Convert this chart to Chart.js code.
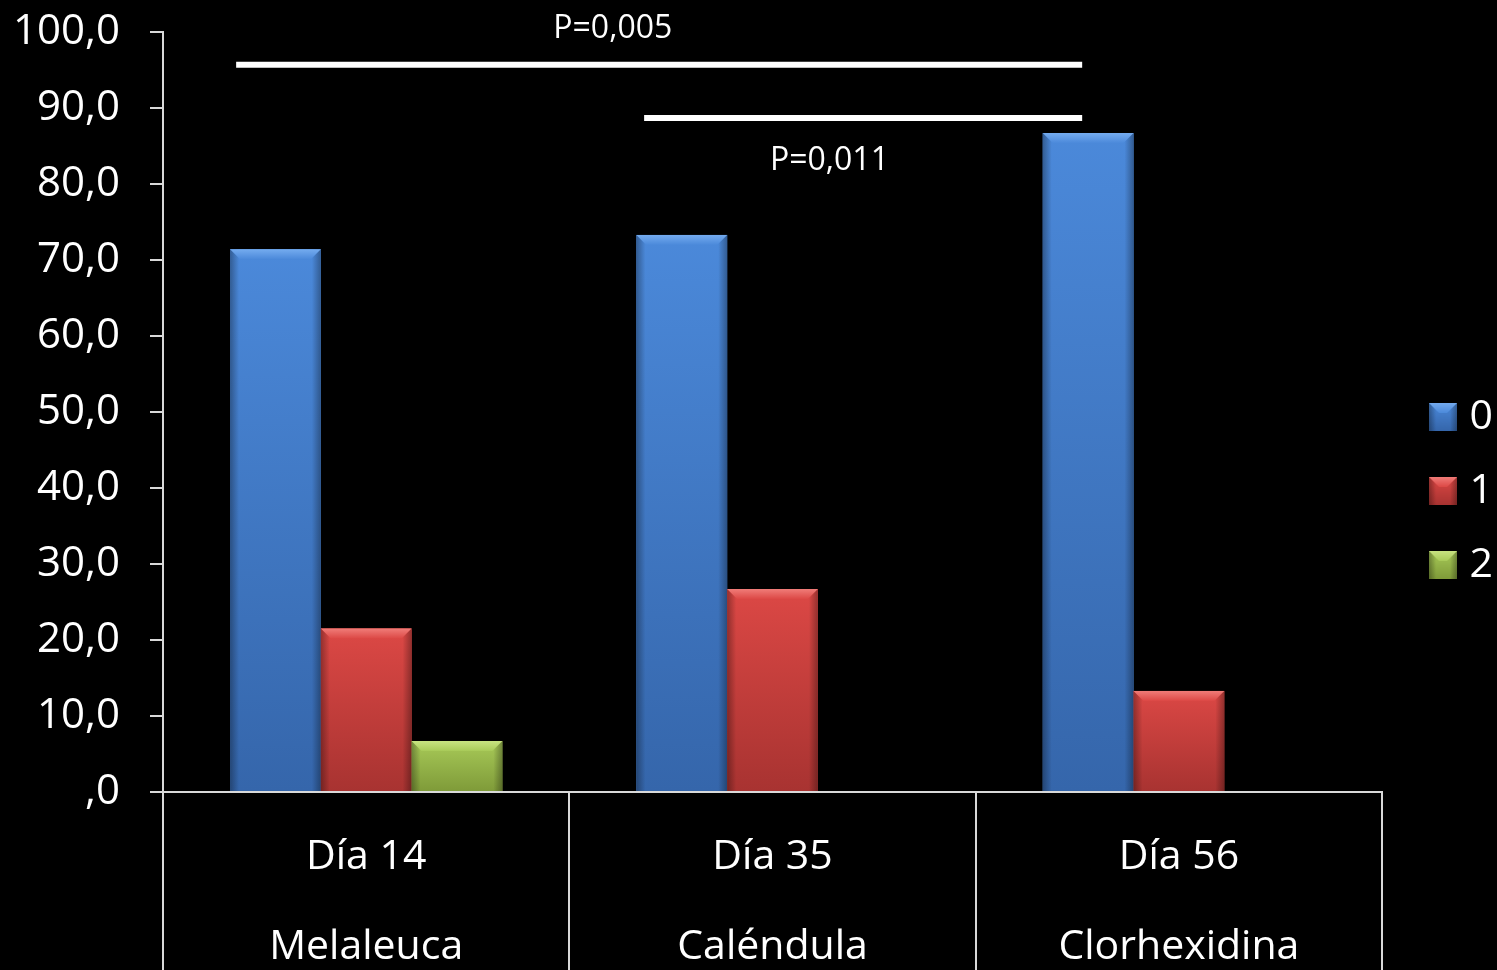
<!DOCTYPE html>
<html lang="es">
<head>
    <meta charset="UTF-8">
    <title>Puntuación por grupo</title>
    <script src="https://cdn.jsdelivr.net/npm/chart.js@4.4.1/dist/chart.umd.min.js"></script>
    <style>
        html, body { margin: 0; padding: 0; background: #000; overflow: hidden; }
        #wrap { width: 1497px; height: 970px; }
    </style>
</head>
<body>
    <div id="wrap"><canvas id="scoreChart"></canvas></div>

    <script>
        // Data
        const categories = [['Día 14', 'Melaleuca'], ['Día 35', 'Caléndula'], ['Día 56', 'Clorhexidina']];
        const seriesNames = ['0', '1', '2'];
        const score0 = [71.4, 73.3, 86.7];
        const score1 = [21.5, 26.7, 13.3];
        const score2 = [6.7, 0, 0];
        const pLabels = ['P=0,005', 'P=0,011'];

        const FONT = "'Open Sans', 'DejaVu Sans', sans-serif";
        const AXIS = '#d9d9d9';

        // bar shading per series: top, bottom, bevel
        const shades = [
            { top: '#4b89da', bottom: '#3566ab', bevel: '#74abef' },
            { top: '#dc4845', bottom: '#a83331', bevel: '#f07c78' },
            { top: '#a8ca58', bottom: '#7f9b39', bevel: '#c8e381' }
        ];

        function bevelRect(ctx, left, top, w, h, c) {
            const d = Math.min(10, h / 2, w / 2);
            let g = ctx.createLinearGradient(0, top, 0, top + h);
            g.addColorStop(0, c.top);
            g.addColorStop(1, c.bottom);
            ctx.fillStyle = g;
            ctx.fillRect(left, top, w, h);

            const s = Math.min(9, w / 4);
            g = ctx.createLinearGradient(left, 0, left + s, 0);
            g.addColorStop(0, 'rgba(0,0,0,0.32)');
            g.addColorStop(1, 'rgba(0,0,0,0)');
            ctx.fillStyle = g;
            ctx.fillRect(left, top, s, h);
            g = ctx.createLinearGradient(left + w - s, 0, left + w, 0);
            g.addColorStop(0, 'rgba(0,0,0,0)');
            g.addColorStop(1, 'rgba(0,0,0,0.32)');
            ctx.fillStyle = g;
            ctx.fillRect(left + w - s, top, s, h);

            g = ctx.createLinearGradient(0, top, 0, top + d);
            g.addColorStop(0, c.bevel);
            g.addColorStop(1, c.top);
            ctx.fillStyle = g;
            ctx.beginPath();
            ctx.moveTo(left, top);
            ctx.lineTo(left + w, top);
            ctx.lineTo(left + w - d, top + d);
            ctx.lineTo(left + d, top + d);
            ctx.closePath();
            ctx.fill();
        }

        function makeIcon(c) {
            const cv = document.createElement('canvas');
            cv.width = 28; cv.height = 28;
            bevelRect(cv.getContext('2d'), 0, 0, 28, 28, c);
            return cv;
        }

        const bevelPlugin = {
            id: 'bevel',
            afterDatasetsDraw(chart) {
                const ctx = chart.ctx;
                ctx.save();
                chart.data.datasets.forEach((ds, i) => {
                    chart.getDatasetMeta(i).data.forEach(bar => {
                        const p = bar.getProps(['x', 'y', 'base', 'width'], true);
                        const h = p.base - p.y;
                        if (h < 1) return;
                        bevelRect(ctx, p.x - p.width / 2, p.y, p.width, h, shades[i]);
                    });
                });
                ctx.restore();
            }
        };

        // push the legend a bit away from the plot area
        const legendGap = {
            id: 'legendGap',
            afterLayout(chart, args, opts) {
                chart.legend.left += opts.shift;
                chart.legend.right += opts.shift;
            }
        };

        // significance brackets (x in category units, y in axis units)
        const bracketPlugin = {
            id: 'brackets',
            afterDraw(chart, args, opts) {
                const { ctx, scales: { x, y } } = chart;
                ctx.save();
                ctx.strokeStyle = '#fff';
                ctx.lineWidth = 6;
                ctx.fillStyle = '#fff';
                ctx.font = '32px ' + FONT;
                ctx.textAlign = 'center';
                ctx.textBaseline = 'middle';
                opts.items.forEach((b, i) => {
                    ctx.beginPath();
                    ctx.moveTo(x.getPixelForValue(b.from), y.getPixelForValue(b.y));
                    ctx.lineTo(x.getPixelForValue(b.to), y.getPixelForValue(b.y));
                    ctx.stroke();
                    ctx.fillText(pLabels[i], x.getPixelForValue(b.textX), y.getPixelForValue(b.textY));
                });
                ctx.restore();
            }
        };

        const values = [score0, score1, score2];
        const ctx = document.getElementById('scoreChart').getContext('2d');
        const scoreChart = new Chart(ctx, {
            type: 'bar',
            data: {
                labels: categories,
                datasets: values.map((v, i) => ({
                    label: seriesNames[i],
                    data: v,
                    backgroundColor: shades[i].top,
                    borderWidth: 0,
                    pointStyle: makeIcon(shades[i]),
                    categoryPercentage: 0.67,
                    barPercentage: 1.0
                }))
            },
            options: {
                responsive: true,
                maintainAspectRatio: false,
                animation: false,
                layout: { padding: { left: 0, top: 12, right: 16, bottom: 0 } },
                plugins: {
                    legend: {
                        position: 'right',
                        labels: {
                            color: '#fff',
                            font: { size: 41, family: FONT },
                            usePointStyle: true,
                            pointStyleWidth: 12,
                            padding: 33
                        }
                    },
                    legendGap: { shift: 22 },
                    tooltip: { enabled: false },
                    brackets: {
                        items: [
                            { from: -0.32, to: 1.762, y: 95.7, textX: 0.607, textY: 100.4 },
                            { from: 0.684, to: 1.762, y: 88.7, textX: 1.14, textY: 83.1 }
                        ]
                    }
                },
                scales: {
                    x: {
                        grid: { offset: true, drawOnChartArea: false, color: AXIS, lineWidth: 2, tickLength: 178 },
                        border: { color: AXIS, width: 2 },
                        ticks: { color: '#fff', font: { size: 41, family: FONT, lineHeight: 2.2 }, padding: -158, maxRotation: 0 },
                        afterFit: s => { s.height = 178; }
                    },
                    y: {
                        min: 0,
                        max: 100,
                        grid: { drawOnChartArea: false, color: AXIS, lineWidth: 2, tickLength: 13 },
                        border: { color: AXIS, width: 2 },
                        ticks: {
                            stepSize: 10,
                            color: '#fff',
                            font: { size: 42, family: FONT },
                            padding: 30,
                            callback: v => v === 0 ? ',0' : v.toFixed(1).replace('.', ',')
                        },
                        afterFit: s => { s.width = 163; s.paddingTop = 32; }
                    }
                }
            },
            plugins: [bevelPlugin, bracketPlugin, legendGap]
        });
    </script>
</body>
</html>
